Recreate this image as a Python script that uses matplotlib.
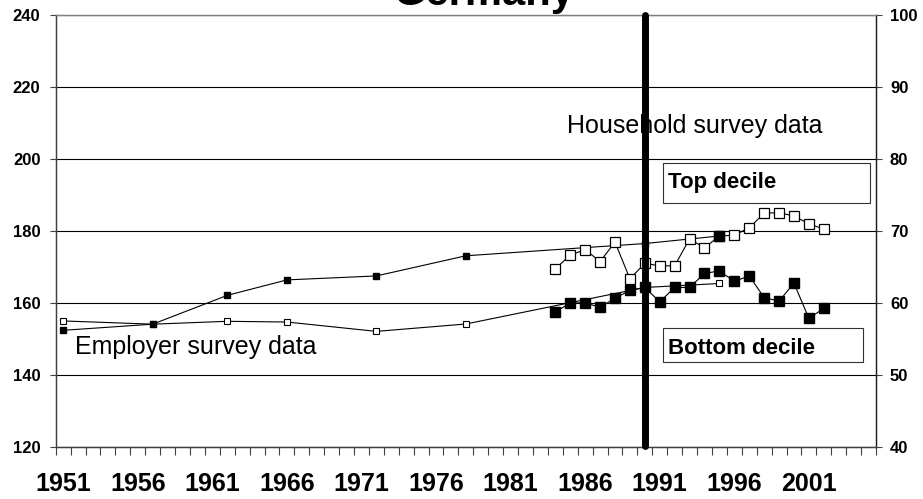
import matplotlib
matplotlib.use('Agg')
import matplotlib.pyplot as plt
from matplotlib.patches import Rectangle
from matplotlib.ticker import MultipleLocator

plt.rcParams['font.family'] = ['Liberation Sans', 'DejaVu Sans']

# ── employer survey data (left axis) ──
emp_years = [1951, 1957, 1962, 1966, 1972, 1978, 1990, 1995]
emp_top = [152.5, 154.2, 162.2, 166.5, 167.6, 173.2, 176.6, 178.7]
emp_bottom = [155.1, 154.2, 155.0, 154.8, 152.2, 154.25, 164.4, 165.5]

# ── household survey data (right axis) ──
hh_years = [1984, 1985, 1986, 1987, 1988, 1989, 1990, 1991, 1992, 1993,
            1994, 1995, 1996, 1997, 1998, 1999, 2000, 2001, 2002]
hh_top = [64.8, 66.7, 67.45, 65.8, 68.5, 63.4, 65.55, 65.2, 65.2, 68.95,
          67.7, 69.35, 69.45, 70.5, 72.5, 72.6, 72.1, 71.05, 70.3]
hh_bottom = [58.8, 60.05, 60.05, 59.45, 60.7, 61.8, 62.2, 60.2, 62.2, 62.2,
             64.15, 64.5, 63.05, 63.8, 60.8, 60.3, 62.8, 57.9, 59.3]

year_labels = ['1951', '1956', '1961', '1966', '1971', '1976', '1981',
               '1986', '1991', '1996', '2001']
break_year = 1990

fig = plt.figure(figsize=(9.23, 4.99), dpi=100)
ax = fig.add_axes([55.7 / 923, 51.7 / 499, 820.3 / 923, 432 / 499])
ax2 = ax.twinx()

# 좌측 축 (employer)
ax.set_xlim(1950.5, 2005.5)
ax.set_ylim(120, 240)
ax.yaxis.set_major_locator(MultipleLocator(20))
ax.grid(axis='y', color='black', lw=0.8, zorder=0)
ax.set_axisbelow(True)

ax.plot(emp_years, emp_bottom, color='black', lw=0.8, marker='s', ms=5,
        mfc='white', mec='black', mew=0.8, zorder=3)
ax.plot(emp_years, emp_top, color='black', lw=0.8, marker='s', ms=5,
        mfc='black', mec='black', zorder=4)

ax.set_xticks([int(y) for y in year_labels])
ax.set_xticklabels(year_labels, fontsize=18, fontweight='bold')
ax.tick_params(axis='x', which='major', length=0, pad=18)
ax.xaxis.set_minor_locator(MultipleLocator(1, offset=0.5))
ax.tick_params(axis='x', which='minor', length=6, width=0.8, color='#404040',
               direction='out')
ax.tick_params(axis='y', length=4, width=0.8, pad=7, color='#404040',
               labelsize=12)
for lab in ax.get_yticklabels():
    lab.set_fontweight('bold')

# 우측 축 (household)
ax2.set_ylim(40, 100)
ax2.yaxis.set_major_locator(MultipleLocator(10))
ax2.tick_params(axis='y', length=4, width=0.8, pad=6, color='#404040',
                labelsize=12)
for lab in ax2.get_yticklabels():
    lab.set_fontweight('bold')

ax2.plot(hh_years, hh_top, color='black', lw=0.8, marker='s', ms=7,
         mfc='white', mec='black', mew=0.9, zorder=3)
ax2.plot(hh_years, hh_bottom, color='black', lw=0.8, marker='s', ms=7,
         mfc='black', mec='black', zorder=3)
# employer 마지막 점이 household top 위에 겹침 -> 큰 검정 마커
i = hh_years.index(emp_years[-1])
ax2.plot(hh_years[i], hh_top[i], marker='s', ms=7, color='black', zorder=4)

for a in (ax, ax2):
    a.spines['top'].set_color('#808080')
    a.spines['left'].set_color('#404040')
    a.spines['right'].set_color('#202020')
    a.spines['bottom'].set_color('#404040')
    for s in a.spines.values():
        s.set_linewidth(0.9)

# 주석 텍스트 + 박스
ax2.text(0.6229, 0.7282, 'Household survey data', transform=ax2.transAxes,
         fontsize=18, va='baseline', ha='left', zorder=5)
ax2.text(0.0235, 0.216, 'Employer survey data', transform=ax2.transAxes,
         fontsize=18, va='baseline', ha='left', zorder=5)

ax2.add_patch(Rectangle((0.7407, 0.5648), 0.252, 0.0926, transform=ax2.transAxes,
                        facecolor='white', edgecolor='#333333', lw=0.8, zorder=5))
ax2.text(0.7465, 0.601, 'Top decile', transform=ax2.transAxes, fontsize=16,
         fontweight='bold', va='baseline', ha='left', zorder=6)
ax2.add_patch(Rectangle((0.740, 0.1981), 0.2445, 0.0773, transform=ax2.transAxes,
                        facecolor='white', edgecolor='#333333', lw=0.8, zorder=5))
ax2.text(0.7468, 0.216, 'Bottom decile', transform=ax2.transAxes, fontsize=16,
         fontweight='bold', va='baseline', ha='left', zorder=6)

# 데이터 구분선 (1990)
ax2.plot([break_year, break_year], [40.2, 100.05], color='black', lw=5,
         solid_capstyle='round', clip_on=False, zorder=10)

# 제목은 원본처럼 위쪽이 잘려 있음
fig.text(484 / 923, 1 - 5 / 499, 'Germany', ha='center', va='baseline',
         fontsize=30, fontweight='bold')

fig.savefig('out.png', dpi=100)
